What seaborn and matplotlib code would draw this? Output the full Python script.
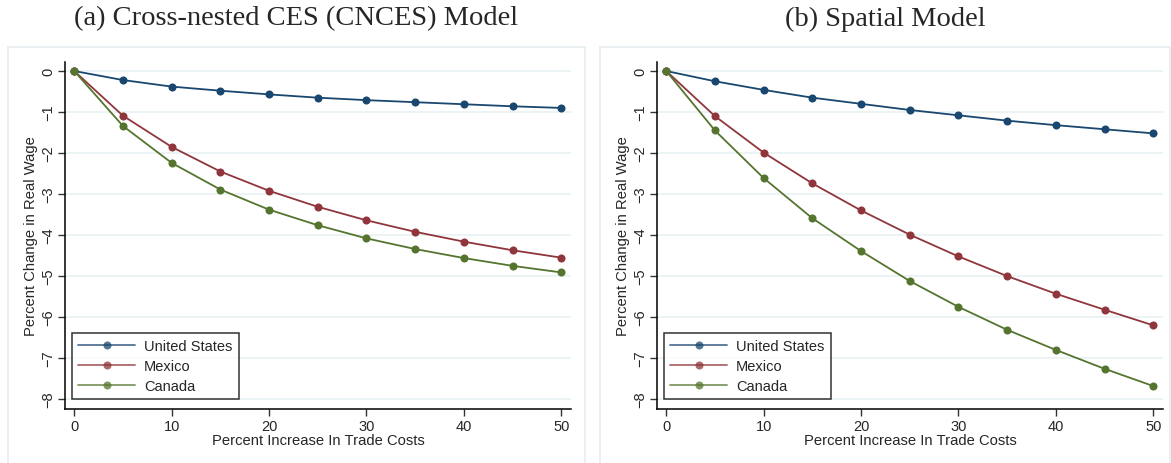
import numpy as np
import pandas as pd
import matplotlib
matplotlib.use("Agg")
import matplotlib.pyplot as plt
from matplotlib.patches import Rectangle
import seaborn as sns

# Daten
trade_costs = [0, 5, 10, 15, 20, 25, 30, 35, 40, 45, 50]
countries = ["United States", "Mexico", "Canada"]

cnces_us = [0, -0.22, -0.38, -0.48, -0.57, -0.65, -0.71, -0.76, -0.81, -0.86, -0.90]
cnces_mx = [0, -1.09, -1.85, -2.45, -2.92, -3.31, -3.64, -3.92, -4.16, -4.37, -4.55]
cnces_ca = [0, -1.34, -2.24, -2.89, -3.38, -3.76, -4.08, -4.34, -4.56, -4.75, -4.91]

spatial_us = [0, -0.25, -0.46, -0.65, -0.80, -0.95, -1.08, -1.21, -1.32, -1.42, -1.52]
spatial_mx = [0, -1.10, -1.99, -2.74, -3.40, -3.99, -4.52, -5.00, -5.43, -5.82, -6.20]
spatial_ca = [0, -1.45, -2.61, -3.59, -4.39, -5.12, -5.75, -6.31, -6.80, -7.26, -7.68]

panel_titles = ["(a) Cross-nested CES (CNCES) Model", "(b) Spatial Model"]
y_ticks = [0, -1, -2, -3, -4, -5, -6, -7, -8]
x_ticks = [0, 10, 20, 30, 40, 50]

palette = {"United States": "#1a476f", "Mexico": "#90353b", "Canada": "#55752f"}


def long_df(us, mx, ca):
    frames = []
    for name, vals in zip(countries, [us, mx, ca]):
        frames.append(pd.DataFrame({"trade": trade_costs, "wage": vals, "country": name}))
    return pd.concat(frames, ignore_index=True)


panels = [long_df(cnces_us, cnces_mx, cnces_ca), long_df(spatial_us, spatial_mx, spatial_ca)]

sns.set_style("white")
plt.rcParams["font.family"] = ["Liberation Sans", "DejaVu Sans"]

fig = plt.figure(figsize=(11.71, 4.64), dpi=100)
W, H = 1171, 464

# Stata-artige Rahmen um jedes Panel
box_color = "#e6eef0"
for x0, x1 in [(8, 585), (600, 1170)]:
    fig.patches.append(Rectangle((x0 / W, -0.01), (x1 - x0) / W, (464 - 48) / H + 0.01,
                                 transform=fig.transFigure, fill=False,
                                 edgecolor=box_color, linewidth=1.2))

axes_left = [65, 657]
for i, (df, title) in enumerate(zip(panels, panel_titles)):
    ax = fig.add_axes([axes_left[i] / W, (464 - 410) / H, 506 / W, 347 / H])
    for yt in y_ticks:
        ax.axhline(yt, color="#eaf2f3", lw=1.3, zorder=0)
    sns.lineplot(data=df, x="trade", y="wage", hue="country", hue_order=countries,
                 palette=palette, marker="o", markersize=5.8, markeredgewidth=0,
                 linewidth=1.3, ax=ax)
    ax.set_xlim(-0.95, 51)
    ax.set_ylim(-8.24, 0.22)
    ax.set_xticks(x_ticks)
    ax.set_yticks(y_ticks)
    ax.set_yticklabels(["0" if v == 0 else "\u2212" + str(-v) for v in y_ticks],
                       rotation=90, va="center")
    ax.tick_params(axis="both", labelsize=10.5, length=5, width=1, color="#333333",
                   direction="out", pad=2, left=True, bottom=True)
    for s in ["top", "right"]:
        ax.spines[s].set_visible(False)
    for s in ["left", "bottom"]:
        ax.spines[s].set_color("black")
        ax.spines[s].set_linewidth(1.1)
    ax.set_xlabel("Percent Increase In Trade Costs", fontsize=10.6, labelpad=0)
    ax.set_ylabel("Percent Change in Real Wage", fontsize=10.6, labelpad=2)
    leg = ax.legend(loc="lower left", bbox_to_anchor=(0.005, 0.015), fontsize=10.5,
                    handlelength=3.9, frameon=True, fancybox=False, borderpad=0.45,
                    labelspacing=0.4, handletextpad=0.6, borderaxespad=0.3)
    leg.get_frame().set_edgecolor("black")
    leg.get_frame().set_linewidth(1.1)
    for ln in leg.get_lines():
        ln.set_alpha(0.75)
    cx = [296.5, 885][i]
    fig.text(cx / W, 1 - 19 / H, title, ha="center", va="center",
             fontsize=20.5, family=["Liberation Serif", "DejaVu Serif"])

fig.savefig("out.png", dpi=100)
